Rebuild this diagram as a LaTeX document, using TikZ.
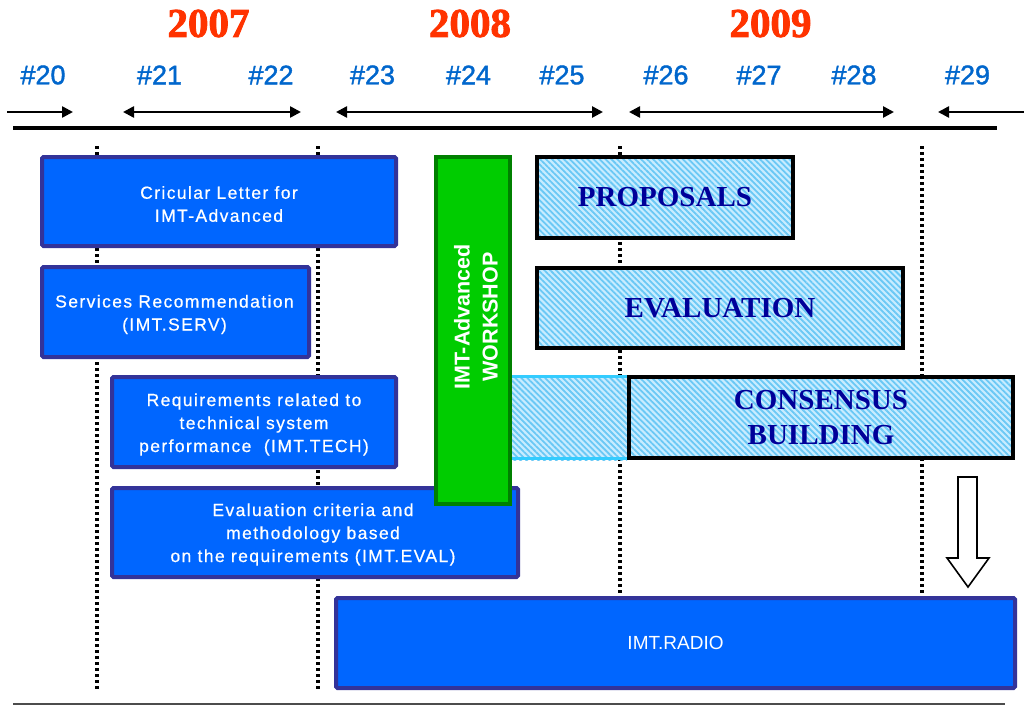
\documentclass[tikz,border=0pt]{standalone}
\usepackage{fontspec}
\setmainfont{Liberation Sans}
\newfontfamily\boxfont[LetterSpace=8,FakeBold=0.6]{Liberation Sans}
\newfontfamily\meetfont[FakeBold=1.4]{Liberation Sans}
\newfontfamily\serifb{Liberation Serif}
\newfontfamily\yearfont[FakeBold=2]{Liberation Serif}
\usetikzlibrary{arrows.meta,patterns.meta}
\definecolor{boxblue}{HTML}{0066FF}
\definecolor{boxedge}{HTML}{333399}
\definecolor{wsgreen}{HTML}{00CC00}
\definecolor{wsedge}{HTML}{008000}
\definecolor{hatchbase}{HTML}{C8ECFF}
\definecolor{hatchline}{HTML}{6AC8F5}
\definecolor{bandedge}{HTML}{33CCFF}
\definecolor{titleblue}{HTML}{000099}
\definecolor{yearred}{HTML}{FF3300}
\definecolor{meetblue}{HTML}{0066CC}
\tikzset{
  bluebox/.style={draw=boxedge, line width=4pt, fill=boxblue, rounded corners=1.5pt,
    text=white, align=center, inner sep=0pt,
    font=\boxfont\fontsize{17.5}{23}\selectfont},
  hatchfill/.style={preaction={fill=hatchbase},
    pattern={Lines[angle=-45,distance=4.2pt,line width=1.8pt]}, pattern color=hatchline},
  hatchbox/.style={hatchfill, draw=black, line width=4pt, inner sep=0pt,
    text=titleblue, align=center,
    font=\serifb\bfseries\fontsize{29}{35}\selectfont},
  yearlbl/.style={font=\yearfont\bfseries\fontsize{41}{41}\selectfont, text=yearred, inner sep=0pt},
  meetlbl/.style={font=\meetfont\fontsize{27}{27}\selectfont, text=meetblue, inner sep=0pt},
  tlarrow/.style={line width=2.5pt, {Triangle[length=11pt,width=11pt]}-{Triangle[length=11pt,width=11pt]}},
  tlright/.style={line width=2.5pt, -{Triangle[length=11pt,width=11pt]}},
  dotline/.style={line width=3.2pt, dash pattern=on 3pt off 3pt},
}
\begin{document}
\begin{tikzpicture}[x=1pt,y=-1pt]
\useasboundingbox (0,0) rectangle (1024,706);

% years
\node[yearlbl] (y2007) at (208.5,23.5) {2007};
\node[yearlbl] (y2008) at (470,23.5) {2008};
\node[yearlbl] (y2009) at (770.5,23.5) {2009};

% meetings
\node[meetlbl] (m20) at (43,75) {\#20};
\node[meetlbl] (m21) at (159.5,75) {\#21};
\node[meetlbl] (m22) at (271,75) {\#22};
\node[meetlbl] (m23) at (372.5,75) {\#23};
\node[meetlbl] (m24) at (468.5,75) {\#24};
\node[meetlbl] (m25) at (562,75) {\#25};
\node[meetlbl] (m26) at (666,75) {\#26};
\node[meetlbl] (m27) at (759,75) {\#27};
\node[meetlbl] (m28) at (854,75) {\#28};
\node[meetlbl] (m29) at (967.5,75) {\#29};

% timeline arrows
\coordinate (a1s) at (7,112);   \coordinate (a1e) at (73,112);
\coordinate (a2s) at (123,112); \coordinate (a2e) at (301,112);
\coordinate (a3s) at (336,112); \coordinate (a3e) at (603,112);
\coordinate (a4s) at (629,112); \coordinate (a4e) at (894,112);
\coordinate (a5s) at (1024,112); \coordinate (a5e) at (938,112);
\draw[tlright] (a1s) -- (a1e);
\draw[tlarrow] (a2s) -- (a2e);
\draw[tlarrow] (a3s) -- (a3e);
\draw[tlarrow] (a4s) -- (a4e);
\draw[tlright] (a5s) -- (a5e);
\coordinate (ls) at (13,128); \coordinate (le) at (997,128);
\draw[line width=4pt] (ls) -- (le);

% dotted verticals
\coordinate (d1t) at (97,146);  \coordinate (d1b) at (97,690);
\coordinate (d2t) at (318,146); \coordinate (d2b) at (318,690);
\coordinate (d3t) at (620,146); \coordinate (d3b) at (620,598);
\coordinate (d4t) at (922,146); \coordinate (d4b) at (922,598);
\draw[dotline] (d1t) -- (d1b);
\draw[dotline] (d2t) -- (d2b);
\draw[dotline] (d3t) -- (d3b);
\draw[dotline] (d4t) -- (d4b);

% blue boxes
\node[bluebox, minimum width=354pt, minimum height=89pt] (letter) at (219,201.5) {};
\node[bluebox, draw=none, fill=none, align=center] (lettert) at (219,204) {Cricular Letter for\\IMT-Advanced};
\node[bluebox, minimum width=267pt, minimum height=90pt] (serv) at (175.5,312) {};
\node[bluebox, draw=none, fill=none] (servt) at (174.5,314.5) {Services Recommendation\\(IMT.SERV)};
\node[bluebox, minimum width=284pt, minimum height=90pt] (tech) at (254,422) {};
\node[bluebox, draw=none, fill=none] (techt) at (254,424.5) {Requirements related to\\technical system\\performance~~(IMT.TECH)};
\node[bluebox, minimum width=406pt, minimum height=89pt] (evalc) at (315,532.5) {};
\node[bluebox, draw=none, fill=none] (evalct) at (313,534.5) {Evaluation criteria and\\methodology based\\on the requirements (IMT.EVAL)};

% hatched band behind workshop
\path[hatchfill] (512,375) rectangle (627,460);
\coordinate (bt1) at (512,376.5); \coordinate (bt2) at (627,376.5);
\coordinate (bb1) at (512,458.5); \coordinate (bb2) at (627,458.5);
\draw[bandedge, line width=3.5pt] (bt1) -- (bt2);
\draw[bandedge, line width=3.5pt] (bb1) -- (bb2);

% hatched boxes
\node[hatchbox, minimum width=256pt, minimum height=81pt] (prop) at (665,197.5) {PROPOSALS};
\node[hatchbox, minimum width=366pt, minimum height=80pt] (evalu) at (720,308) {EVALUATION};
\node[hatchbox, minimum width=384pt, minimum height=81pt] (cons) at (821,417.5) {CONSENSUS\\BUILDING};

% workshop
\node[draw=wsedge, line width=4pt, fill=wsgreen, minimum width=74pt, minimum height=347pt,
  inner sep=0pt] (ws) at (473,330.5) {};
\node[rotate=90, text=white, align=center, inner sep=0pt,
  font=\bfseries\fontsize{21.5}{28}\selectfont] (wst) at (476,317) {IMT-Advanced\\WORKSHOP};

% radio
\node[bluebox, minimum width=679pt, minimum height=90pt, font=\fontsize{19}{23}\selectfont] (radio) at (675.5,643) {IMT.RADIO};

% hollow arrow
\draw[line width=1.6pt, fill=white, line join=miter]
  (958,477) -- (977,477) -- (977,558) -- (989,558) -- (968,587) -- (947,558) -- (958,558) -- cycle;

% bottom line
\coordinate (bl1) at (13,704); \coordinate (bl2) at (1005,704);
\draw[line width=1.5pt, black!70] (bl1) -- (bl2);
\end{tikzpicture}
\end{document}
